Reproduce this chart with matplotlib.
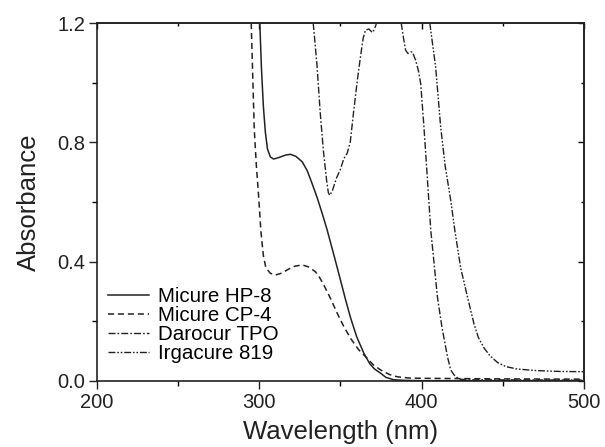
import numpy as np
import matplotlib
matplotlib.use("Agg")
import matplotlib.pyplot as plt
from matplotlib.ticker import MultipleLocator, FormatStrFormatter

plt.rcParams['font.family'] = ['Liberation Sans', 'DejaVu Sans']

# Micure HP-8 (solid)
hp8_wl = [300.3, 301.3, 302.5, 303.7, 305.0, 306.8, 308.8, 312.0, 316.0, 319.1,
          322.5, 326.4, 329.5, 332.5, 335.6, 338.7, 341.8, 344.8, 347.5, 350.0,
          353.0, 356.2, 360.0, 364.4, 368.0, 371.0, 374.7, 378.0, 382.9, 390.0,
          400.0, 450.0, 500.0]
hp8_abs = [1.20, 1.05, 0.92, 0.835, 0.778, 0.751, 0.744, 0.749, 0.757, 0.760,
           0.753, 0.735, 0.705, 0.662, 0.615, 0.562, 0.506, 0.445, 0.390, 0.338,
           0.275, 0.212, 0.148, 0.093, 0.058, 0.040, 0.026, 0.012, 0.004, 0.002,
           0.001, 0.001, 0.001]

# Micure CP-4 (dashed)
cp4_wl = [295.0, 296.9, 298.2, 299.6, 301.0, 302.5, 304.0, 306.8, 309.9, 314.0,
          318.0, 322.0, 326.4, 330.5, 334.6, 337.0, 339.7, 344.0, 348.0, 352.0,
          356.2, 361.0, 366.5, 370.0, 374.7, 380.0, 385.0, 392.0, 400.0, 450.0,
          500.0]
cp4_abs = [1.20, 0.841, 0.72, 0.617, 0.50, 0.42, 0.38, 0.361, 0.355, 0.362,
           0.375, 0.385, 0.389, 0.382, 0.366, 0.348, 0.322, 0.275, 0.227, 0.183,
           0.143, 0.106, 0.076, 0.055, 0.037, 0.022, 0.014, 0.010, 0.009, 0.007,
           0.006]

# Darocur TPO (dash-dot), leaves the top of the frame between 372 and 387 nm
tpo_wl = [333.2, 335.5, 337.5, 339.5, 341.5, 342.5, 343.4, 345.0, 347.5, 350.0,
          352.0, 354.1, 356.0, 358.2, 360.2, 362.3, 364.0, 365.4, 367.5, 369.6,
          371.0, 372.2, np.nan, 387.4, 388.8, 390.1, 391.5, 393.2, 394.3, 396.3,
          398.0, 399.4, 401.4, 403.5, 405.6, 409.7, 412.5, 415.9, 417.9, 420.0,
          423.0, 430.0, 500.0]
tpo_abs = [1.20, 1.06, 0.90, 0.77, 0.67, 0.632, 0.622, 0.638, 0.68, 0.71,
           0.745, 0.763, 0.80, 0.908, 1.00, 1.087, 1.15, 1.176, 1.18, 1.168,
           1.18, 1.20, np.nan, 1.20, 1.15, 1.109, 1.098, 1.103, 1.103, 1.075,
           1.04, 0.997, 0.852, 0.68, 0.506, 0.282, 0.18, 0.081, 0.037, 0.020,
           0.006, 0.004, 0.003]

# Irgacure 819 (dash-dot-dot)
irg_wl = [405.0, 408.6, 411.7, 414.5, 417.9, 420.4, 424.0, 428.2, 432.3, 435.0,
          438.5, 442.0, 446.7, 452.0, 459.0, 470.0, 485.0, 500.0]
irg_abs = [1.20, 1.053, 0.852, 0.72, 0.606, 0.506, 0.38, 0.282, 0.19, 0.145,
           0.11, 0.085, 0.062, 0.048, 0.040, 0.035, 0.032, 0.031]

fig = plt.figure(figsize=(6.05, 4.47), dpi=100)
ax = fig.add_axes([0.1603, 0.1477, 0.8050, 0.8008])

lc = '#222222'
ax.plot(hp8_wl, hp8_abs, color=lc, lw=1.1, ls='-', label='Micure HP-8')
ax.plot(cp4_wl, cp4_abs, color=lc, lw=1.1, ls=(0, (4, 2.5)), label='Micure CP-4')
ax.plot(tpo_wl, tpo_abs, color=lc, lw=1.0, ls=(0, (5, 1.5, 1.2, 1.5)), label='Darocur TPO')
ax.plot(irg_wl, irg_abs, color=lc, lw=1.0, ls=(0, (5, 1.3, 1.2, 1.3, 1.2, 1.3)), label='Irgacure 819')

ax.set_xlim(200, 500)
ax.set_ylim(0, 1.2)
ax.xaxis.set_major_locator(MultipleLocator(100))
ax.xaxis.set_minor_locator(MultipleLocator(50))
ax.yaxis.set_major_locator(MultipleLocator(0.4))
ax.yaxis.set_minor_locator(MultipleLocator(0.2))
ax.yaxis.set_major_formatter(FormatStrFormatter('%.1f'))

ax.tick_params(which='major', direction='out', length=6, width=1.0, labelsize=14.5,
               colors='#222222', pad=2.5)
ax.tick_params(which='minor', direction='out', length=3.5, width=1.0)

# mirrored ticks pointing inward on top and right
top = ax.secondary_xaxis('top')
top.xaxis.set_major_locator(MultipleLocator(100))
top.xaxis.set_minor_locator(MultipleLocator(50))
top.tick_params(which='both', direction='in', labeltop=False, width=1.0)
top.tick_params(which='major', length=4)
top.tick_params(which='minor', length=2.5)
right = ax.secondary_yaxis('right')
right.yaxis.set_major_locator(MultipleLocator(0.4))
right.yaxis.set_minor_locator(MultipleLocator(0.2))
right.tick_params(which='both', direction='in', labelright=False, width=1.0)
right.tick_params(which='major', length=4)
right.tick_params(which='minor', length=2.5)

for s in list(ax.spines.values()) + [top.spines['top'], right.spines['right']]:
    s.set_linewidth(1.2)
    s.set_color('#222222')

ax.set_xlabel('Wavelength (nm)', fontsize=18.5, color='#222222', labelpad=6)
ax.set_ylabel('Absorbance', fontsize=18.5, color='#222222', labelpad=12)

ax.legend(loc='lower left', bbox_to_anchor=(0.023, 0.05), frameon=False,
          fontsize=14.8, handlelength=2.0, handletextpad=0.4, labelspacing=0.0,
          borderpad=0, borderaxespad=0)

fig.savefig('out.png', dpi=100)
